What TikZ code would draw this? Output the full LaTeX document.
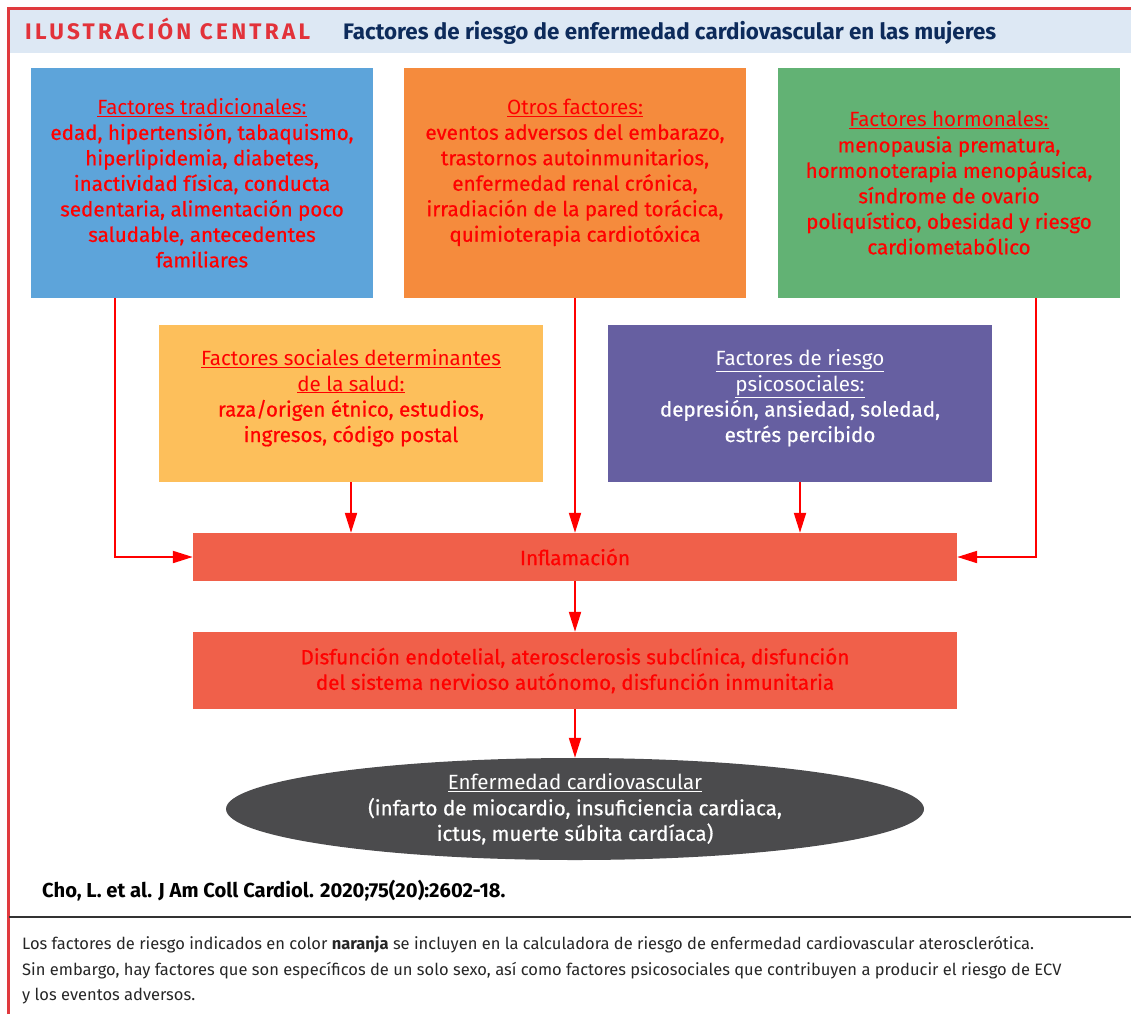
\documentclass[tikz,border=0pt]{standalone}
\usepackage{fontspec}
\setmainfont{Fira Sans}
\newfontfamily\medfont[RawFeature={embolden=0.6}]{Fira Sans}
\newfontfamily\headfont[LetterSpace=14.5]{Fira Sans}
\usetikzlibrary{arrows.meta,shapes.geometric}

\definecolor{framered}{HTML}{E03A3E}
\definecolor{headfill}{HTML}{DDE8F4}
\definecolor{titlered}{HTML}{E2323A}
\definecolor{titlenavy}{HTML}{0D2B5B}
\definecolor{cvblue}{HTML}{5DA4DA}
\definecolor{cvorange}{HTML}{F58B3D}
\definecolor{cvgreen}{HTML}{62B274}
\definecolor{cvyellow}{HTML}{FDBF5B}
\definecolor{cvpurple}{HTML}{665FA1}
\definecolor{cvcoral}{HTML}{F0604A}
\definecolor{cvgray}{HTML}{4B4B4D}
\definecolor{textred}{HTML}{FF0000}

\begin{document}
\begin{tikzpicture}[x=1pt,y=-1pt]
    \useasboundingbox (0,0) rectangle (1131,1014);

    % Styles
    \tikzset{factor/.style = {inner sep=0, align=center, text=textred,
        font=\medfont\fontsize{20.6}{25.5}\selectfont}}
    \tikzset{topbox/.style = {factor, minimum width=342, minimum height=230}}
    \tikzset{midbox/.style = {factor, minimum width=384, minimum height=157}}
    \tikzset{wide/.style = {factor, fill=cvcoral, minimum width=764}}
    \tikzset{flow/.style = {draw=textred, line width=2,
        -{Triangle[length=20pt,width=12pt]}}}

    % Frame and header
    \fill[headfill] (10,10) rectangle (1131,53);
    \draw[framered, line width=2.5] (8.7,1014) -- (8.7,8.3) -- (1131,8.3);
    \draw[black!80, line width=1.5] (9,917) -- (1131,917);
    \node[anchor=base west, inner sep=0, text=titlered,
        font=\headfont\bfseries\fontsize{22.5}{24}\selectfont] (ilus) at (25,40)
        {ILUSTRACIÓN CENTRAL};
    \node[anchor=base west, inner sep=0, text=titlenavy,
        font=\bfseries\fontsize{22.4}{24}\selectfont] (titulo) at (343,40)
        {Factores de riesgo de enfermedad cardiovascular en las mujeres};

    % Top boxes
    \node[topbox, fill=cvblue] (trad) at (202,183)
        {{\rmfamily\underline{Factores tradicionales:}}\\
        edad, hipertensión, tabaquismo,\\
        hiperlipidemia, diabetes,\\
        inactividad física, conducta\\
        sedentaria, alimentación poco\\
        saludable, antecedentes\\
        familiares};
    \node[topbox, fill=cvorange] (otros) at (575,183)
        {{\rmfamily\underline{Otros factores:}}\\
        eventos adversos del embarazo,\\
        trastornos autoinmunitarios,\\
        enfermedad renal crónica,\\
        irradiación de la pared torácica,\\
        quimioterapia cardiotóxica\\
        \mbox{}};
    \node[topbox, fill=cvgreen] (horm) at (949,183)
        {{\rmfamily\underline{Factores hormonales:}}\\
        menopausia prematura,\\
        hormonoterapia menopáusica,\\
        síndrome de ovario\\
        poliquístico, obesidad y riesgo\\
        cardiometabólico};

    % Middle boxes
    \node[midbox, fill=cvyellow] (social) at (351,403.5)
        {{\rmfamily\underline{Factores sociales determinantes}}\\
        {\rmfamily\underline{de la salud:}}\\
        raza/origen étnico, estudios,\\
        ingresos, código postal\\[-10pt]\mbox{}};
    \node[midbox, fill=cvpurple, text=white] (psico) at (800,403.5)
        {{\rmfamily\underline{Factores de riesgo}}\\
        {\rmfamily\underline{psicosociales:}}\\
        depresión, ansiedad, soledad,\\
        estrés percibido\\[-10pt]\mbox{}};

    % Outcome chain
    \node[wide, minimum height=48] (infl) at (575,557) {\raisebox{-3pt}{Inflamación}};
    \node[wide, minimum height=77] (disf) at (575,670.5)
        {Disfunción endotelial, aterosclerosis subclínica, disfunción\\
        del sistema nervioso autónomo, disfunción inmunitaria};
    \node[factor, ellipse, fill=cvgray, text=white, minimum width=698,
        minimum height=102] (ecv) at (575,809)
        {{\rmfamily\underline{Enfermedad cardiovascular}}\\
        (infarto de miocardio, insuficiencia cardiaca,\\
        ictus, muerte súbita cardíaca)};

    % Edges
    \draw[flow] ([xshift=-87]trad.south) |- (infl.west);
    \draw[flow] ([xshift=87]horm.south) |- (infl.east);
    \draw[flow] (otros.south) -- (infl.north);
    \draw[flow] (social.south) -- (social.south |- infl.north);
    \draw[flow] (psico.south) -- (psico.south |- infl.north);
    \draw[flow] (infl.south) -- (disf.north);
    \draw[flow] (disf.south) -- (ecv.north);

    % Notes
    \node[anchor=base west, inner sep=0,
        font=\bfseries\fontsize{20.2}{22}\selectfont] (cita) at (42,897)
        {Cho, L. et al. J Am Coll Cardiol. 2020;75(20):2602-18.};
    \node[anchor=north west, inner sep=0, align=left, text=black!85,
        font=\fontsize{16.5}{25.5}\selectfont] (nota) at (22,936)
        {Los factores de riesgo indicados en color \textbf{naranja} se incluyen en la calculadora de riesgo de enfermedad cardiovascular aterosclerótica.\\
        Sin embargo, hay factores que son específicos de un solo sexo, así como factores psicosociales que contribuyen a producir el riesgo de ECV\\
        y los eventos adversos.};

\end{tikzpicture}
\end{document}
